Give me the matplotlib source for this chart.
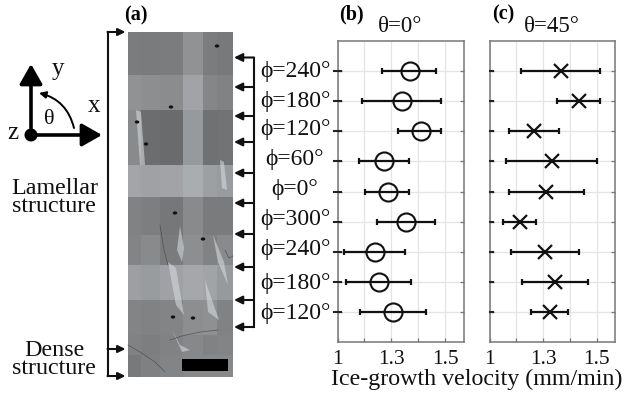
import numpy as np
import matplotlib
matplotlib.use('Agg')
import matplotlib.pyplot as plt
from matplotlib.colors import LinearSegmentedColormap
from matplotlib.patches import Rectangle, Polygon, FancyArrowPatch, Ellipse

plt.rcParams['font.family'] = ['Liberation Serif', 'DejaVu Serif']

W, H = 624, 393

# measurements, top row first
phi_labels = ['ϕ=240°', 'ϕ=180°', 'ϕ=120°', 'ϕ=60°', 'ϕ=0°', 'ϕ=300°', 'ϕ=240°', 'ϕ=180°', 'ϕ=120°']
rows = [9, 8, 7, 6, 5, 4, 3, 2, 1]

v0 = [1.335, 1.302, 1.386, 1.218, 1.234, 1.319, 1.175, 1.192, 1.260]
v0_lo = [1.207, 1.114, 1.282, 1.100, 1.130, 1.183, 1.031, 1.040, 1.105]
v0_hi = [1.458, 1.481, 1.481, 1.334, 1.334, 1.453, 1.316, 1.341, 1.410]

v45 = [1.333, 1.418, 1.209, 1.291, 1.265, 1.141, 1.258, 1.306, 1.283]
v45_lo = [1.146, 1.314, 1.088, 1.077, 1.088, 1.062, 1.100, 1.150, 1.195]
v45_hi = [1.516, 1.516, 1.325, 1.500, 1.443, 1.218, 1.418, 1.459, 1.365]

x_ticks = [1, 1.125, 1.25, 1.375, 1.5]
x_ticklabels = ['1', '', '1.3', '', '1.5']

# photo approximated as grey patches
photo_x = [128, 141, 160, 183, 203, 217, 233]
photo_y = [32, 75, 110, 165, 197, 235, 265, 300, 335, 355, 377]
photo_grey = [
    [128, 126, 128, 150, 128, 124],
    [150, 146, 144, 168, 138, 134],
    [142, 112, 110, 158, 116, 118],
    [170, 166, 168, 178, 164, 160],
    [134, 130, 122, 142, 126, 126],
    [136, 142, 126, 146, 134, 142],
    [164, 160, 166, 172, 168, 158],
    [136, 134, 136, 146, 148, 134],
    [134, 130, 134, 140, 134, 136],
    [124, 132, 136, 140, 140, 140],
]
streaks = [
    [(220, 160), (224, 162), (227, 190), (222, 188)],
    [(180, 226), (184, 248), (182, 262), (177, 250)],
    [(168, 262), (176, 268), (184, 315), (176, 305)],
    [(205, 280), (212, 300), (219, 320), (208, 312)],
    [(213, 235), (224, 262), (228, 285), (218, 262)],
    [(172, 330), (180, 345), (190, 350), (182, 352)],
    [(136, 110), (141, 112), (145, 165), (140, 165)],
]
cracks = [
    [(128, 345), (140, 352), (155, 362), (165, 372)],
    [(225, 250), (229, 258), (233, 256)],
    [(170, 340), (182, 336), (200, 332), (218, 330)],
    [(160, 225), (164, 250), (168, 265)],
]
specks_x = [137, 171, 175, 146, 217, 173, 203, 193]
specks_y = [122, 107, 213, 144, 46, 317, 239, 318]


def style_panel(ax):
    ax.set_xlim(1, 1.587)
    ax.set_ylim(0, 10)
    ax.set_xticks(x_ticks)
    ax.set_xticklabels(x_ticklabels, fontsize=15.5, color='#111111')
    ax.set_yticks(rows)
    ax.set_yticklabels([])
    ax.grid(color='#e4e4e4', lw=0.9)
    ax.set_axisbelow(True)
    ax.tick_params(axis='x', direction='in', length=3, width=0.9, color='#777777', pad=6)
    ax.tick_params(axis='y', direction='in', length=3, width=0.9, color='#777777', right=True)
    for s in ax.spines.values():
        s.set_color('#777777')
        s.set_linewidth(1.1)


def draw_series(ax, v, lo, hi, tick_from, **kw):
    xerr = [np.array(v) - np.array(lo), np.array(hi) - np.array(v)]
    ax.errorbar(v, rows, xerr=xerr, fmt='none', ecolor='#111111', elinewidth=1.6, capsize=2.5, capthick=1.6, zorder=3)
    ax.plot(v, rows, ls='none', color='#111111', zorder=4, **kw)
    # heavy marks at the left spine
    for r in rows:
        ax.plot([tick_from, 0.028], [r, r], transform=ax.get_yaxis_transform(), color='#222222', lw=1.5, clip_on=False, zorder=5)


fig = plt.figure(figsize=(W / 100, H / 100), dpi=100)

ax_b = fig.add_axes([337.5 / W, 1 - 342 / H, 126.3 / W, 301 / H])
style_panel(ax_b)
draw_series(ax_b, v0, v0_lo, v0_hi, -0.028, marker='o', ms=13, mfc='none', mec='#111111', mew=1.5)

ax_c = fig.add_axes([489.7 / W, 1 - 342 / H, 125.6 / W, 301 / H])
style_panel(ax_c)
draw_series(ax_c, v45, v45_lo, v45_hi, 0, marker='x', ms=9.5, mew=1.6)

# overlay in pixel coordinates for the photo and annotations
ov = fig.add_axes([0, 0, 1, 1], zorder=10)
ov.set_xlim(0, W)
ov.set_ylim(H, 0)
ov.axis('off')
ov.patch.set_alpha(0)

steel = LinearSegmentedColormap.from_list('steel', ['#000000', '#f4f8fc'])
ov.pcolormesh(photo_x, photo_y, np.array(photo_grey), cmap=steel, vmin=0, vmax=255)
for p in streaks:
    ov.add_patch(Polygon(p, closed=True, fc='#d4d8dc', ec='none', alpha=0.6))
for c in cracks:
    ov.plot([q[0] for q in c], [q[1] for q in c], color='#3a4046', lw=0.5, alpha=0.7)
for sx, sy in zip(specks_x, specks_y):
    ov.add_patch(Ellipse((sx, sy), 4.5, 3.2, fc='#111111', ec='none'))
ov.add_patch(Rectangle((182, 359), 46, 12, fc='black', ec='none'))

# left bracket
small_head = '-|>,head_length=0.55,head_width=0.27'
ov.plot([107.5, 107.5], [32, 376], color='#111111', lw=1.5)
for y in [32, 349, 376]:
    ov.add_patch(FancyArrowPatch((107.5, y), (125.5, y), arrowstyle=small_head, mutation_scale=8, color='#111111', lw=1.5, shrinkA=0, shrinkB=0))

# right bracket
right_arrows = [57.5, 87, 116, 142, 173, 203, 234, 267, 300, 327]
ov.plot([254, 254], [right_arrows[0], right_arrows[-1]], color='#111111', lw=1.5)
for y in right_arrows:
    ov.add_patch(FancyArrowPatch((254, y), (234, y), arrowstyle=small_head, mutation_scale=9, color='#111111', lw=1.5, shrinkA=0, shrinkB=0))

phi_y = [72, 101, 130, 160, 190, 220, 250, 283, 313]
for lab, y in zip(phi_labels, phi_y):
    ov.text(295, y, lab, fontsize=17, ha='center', va='center', color='#111111')

# coordinate sketch
big_head = '-|>,head_length=0.58,head_width=0.33'
ov.add_patch(FancyArrowPatch((31, 135), (31, 64), arrowstyle=big_head, mutation_scale=21, color='black', lw=2.6, shrinkA=0, shrinkB=0))
ov.add_patch(FancyArrowPatch((31, 135), (102, 135), arrowstyle=big_head, mutation_scale=21, color='black', lw=2.6, shrinkA=0, shrinkB=0))
ov.add_patch(Ellipse((31, 135), 13, 13, fc='black', ec='none'))
ov.add_patch(FancyArrowPatch((74, 128), (39, 93), connectionstyle='arc3,rad=0.3', arrowstyle='-|>', mutation_scale=10, color='black', lw=1.4, shrinkA=0, shrinkB=0))
ov.text(58, 69, 'y', fontsize=18, ha='center', va='center', color='#111111')
ov.text(94, 106, 'x', fontsize=18, ha='center', va='center', color='#111111')
ov.text(13, 133, 'z', fontsize=18, ha='center', va='center', color='#111111')
ov.text(49, 120, 'θ', fontsize=16, ha='center', va='center', color='#111111')

ov.text(55, 188, 'Lamellar', fontsize=17.3, ha='center', va='center', color='#111111')
ov.text(54, 207, 'structure', fontsize=17.3, ha='center', va='center', color='#111111')
ov.text(54, 351, 'Dense', fontsize=17.3, ha='center', va='center', color='#111111')
ov.text(54, 369, 'structure', fontsize=17.3, ha='center', va='center', color='#111111')

# panel letters and headings
ov.text(136, 15, '(a)', fontsize=14.5, fontweight='bold', ha='center', va='center')
ov.text(351, 14, '(b)', fontsize=14.5, fontweight='bold', ha='center', va='center')
ov.text(503, 14, '(c)', fontsize=14.5, fontweight='bold', ha='center', va='center')
ov.text(400, 27, 'θ=0°', fontsize=16.5, ha='center', va='center', color='#111111')
ov.text(552, 27, 'θ=45°', fontsize=16.5, ha='center', va='center', color='#111111')
ov.text(477, 379, 'Ice-growth velocity (mm/min)', fontsize=17.3, ha='center', va='center', color='#111111')

fig.savefig('out.png', dpi=100)
